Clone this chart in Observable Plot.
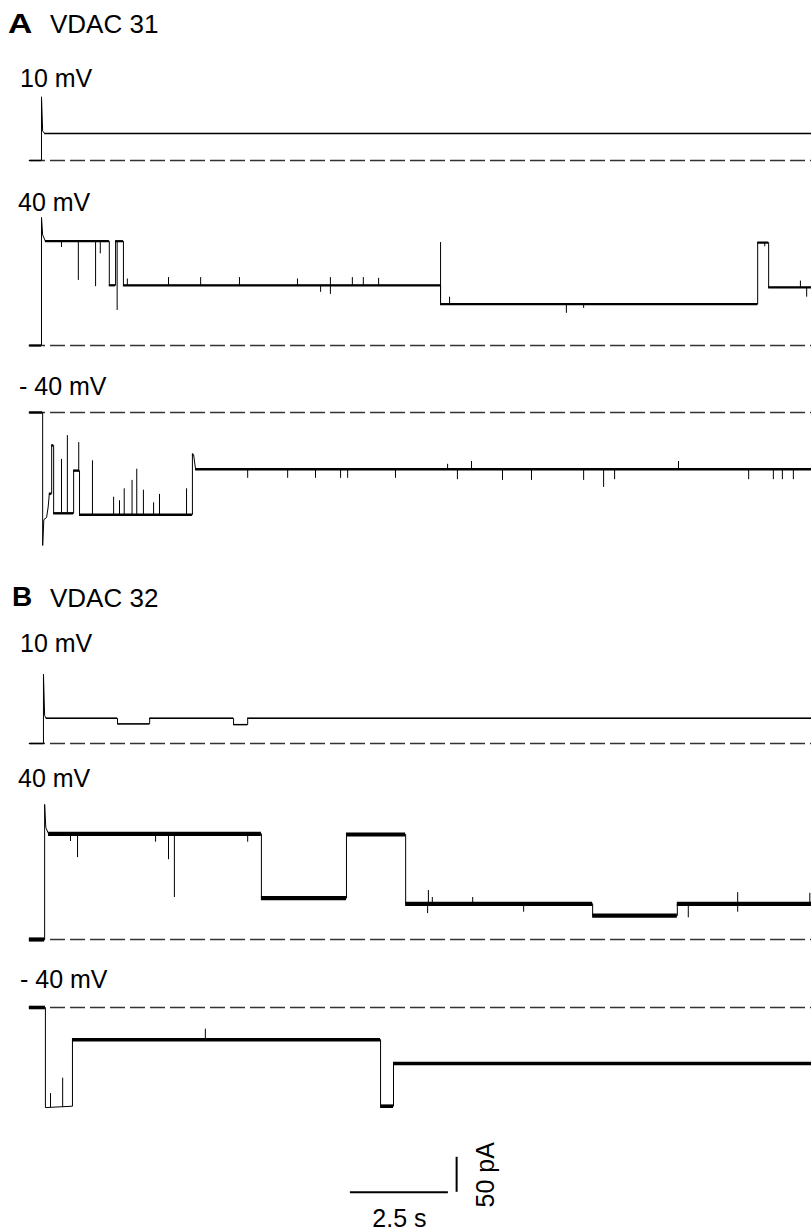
<!DOCTYPE html>
<html><head><meta charset="utf-8">
<script src="https://cdn.jsdelivr.net/npm/d3@7"></script>
<script src="https://cdn.jsdelivr.net/npm/@observablehq/plot@0.6"></script>
<style>
html,body{margin:0;padding:0;background:#fff;}
#page{position:relative;width:811px;height:1231px;overflow:hidden;font-family:"Liberation Sans",Arial,Helvetica,sans-serif;color:#000;}
.lbl{position:absolute;line-height:1;white-space:nowrap;}
.panel{position:absolute;left:0;}
</style></head><body><div id="page"></div>
<script>
// ---------- data ----------
const panelLetters = ["A", "B"];
const panelTitles = ["VDAC 31", "VDAC 32"];
const voltageLabels = ["10 mV", "40 mV", "- 40 mV", "10 mV", "40 mV", "- 40 mV"];

// time in s, current in pA
const a1Time = [-0.31, 0, 0, 0.03, 0.08, 19.65];
const a1Current = [0, 0, 91, 42, 38.6, 38.6];
const a1SpikeTime = [];
const a1SpikePeak = [];

const a2Time = [-0.31, 0, 0, 0.03, 0.1, 1.73, 1.73, 1.89, 1.89, 2.09, 2.09, 10.18, 10.18, 18.27, 18.27, 18.55, 18.55, 19.65];
const a2Current = [0, 0, 183, 158, 149, 149, 86, 86, 149, 149, 86, 86, 59, 59, 147, 147, 83, 83];
const a2SpikeTime = [0.51, 0.94, 1.38, 1.50, 1.93, 2.19, 3.24, 4.06, 5.05, 6.53, 7.12, 7.37, 7.37, 7.93, 8.21, 8.60, 10.18, 10.41, 13.39, 13.83, 18.45, 19.36, 19.52];
const a2SpikePeak = [140, 93, 84, 131, 50, 95, 97, 97, 97, 95, 76, 73, 97, 97, 97, 96, 147, 69, 46, 53, 141, 92, 69];

const a3Time = [-0.31, 0.03, 0.03, 0.06, 0.13, 0.17, 0.20, 0.26, 0.26, 0.31, 0.31, 0.82, 0.82, 0.97, 0.97, 3.85, 3.85, 3.88, 3.93, 19.65];
const a3Current = [0, 0, -190, -153, -150, -135, -116, -116, -47, -47, -144, -144, -83, -83, -146, -146, -60, -60, -81, -81];
const a3SpikeTime = [0.51, 0.66, 0.95, 1.30, 1.84, 1.99, 2.11, 2.31, 2.43, 2.60, 2.86, 3.01, 3.70, 5.26, 6.28, 6.99, 7.63, 7.81, 9.03, 10.36, 10.61, 10.97, 11.76, 12.50, 13.83, 14.34, 14.62, 16.25, 18.04, 18.67, 18.90, 19.18];
const a3SpikePeak = [-67, -33, -43, -69, -121, -126, -109, -97, -81, -111, -129, -117, -109, -94, -94, -94, -94, -94, -94, -74, -96, -70, -97, -97, -97, -107, -96, -70, -96, -96, -96, -96];

const b1Time = [-0.31, 0.05, 0.05, 0.08, 0.12, 1.94, 1.94, 2.76, 2.76, 4.90, 4.90, 5.26, 5.26, 19.65];
const b1Current = [0, 0, 99, 40, 36, 36, 28, 28, 36, 36, 27, 27, 36, 36];
const b1SpikeTime = [];
const b1SpikePeak = [];

const b2Time = [-0.31, 0.08, 0.08, 0.11, 0.18, 5.61, 5.61, 7.78, 7.78, 9.29, 9.29, 14.06, 14.06, 16.22, 16.22, 19.65];
const b2Current = [0, 0, 193, 160, 151, 151, 59, 59, 150, 150, 51, 51, 34, 34, 51, 51];
const b2SpikeTime = [0.74, 0.92, 2.91, 3.24, 3.39, 5.26, 9.85, 9.87, 9.97, 11.00, 12.30, 16.50, 17.76, 17.76, 19.60];
const b2SpikePeak = [140, 117, 139, 114, 60, 139, 37, 70, 60, 60, 39, 31, 67, 39, 66];

const b3Time = [-0.31, 0.10, 0.10, 0.79, 0.79, 8.65, 8.65, 8.98, 8.98, 19.65];
const b3Current = [0, 0, -143, -141, -46, -46, -141, -141, -80, -80];
const b3SpikeTime = [0.23, 0.54, 4.18];
const b3SpikePeak = [-123, -101, -31];

// scale bar
const scaleBarDuration = 2.5;   // s
const scaleBarAmplitude = 50;   // pA
const scaleBarLabels = ["2.5 s", "50 pA"];

// ---------- layout (page pixels) ----------
const pxPerPA = 0.7;
const xDomain = [-0.306, 19.643];
const xRange = [29, 811];
const dashStart = -0.28;
const traces = [
  {time: a1Time, cur: a1Current, st: a1SpikeTime, sp: a1SpikePeak, top: 90, bottom: 170, zero: 160, band: 1.4},
  {time: a2Time, cur: a2Current, st: a2SpikeTime, sp: a2SpikePeak, top: 212, bottom: 355, zero: 345, band: 2.2},
  {time: a3Time, cur: a3Current, st: a3SpikeTime, sp: a3SpikePeak, top: 400, bottom: 555, zero: 412, band: 2.4},
  {time: b1Time, cur: b1Current, st: b1SpikeTime, sp: b1SpikePeak, top: 665, bottom: 752, zero: 743, band: 1.4},
  {time: b2Time, cur: b2Current, st: b2SpikeTime, sp: b2SpikePeak, top: 795, bottom: 950, zero: 939, band: 4.2},
  {time: b3Time, cur: b3Current, st: b3SpikeTime, sp: b3SpikePeak, top: 995, bottom: 1231, zero: 1007, band: 3.6, scaleBar: true}
];
const labelPos = [{x: 20, base: 87}, {x: 18, base: 211}, {x: 19, base: 395}, {x: 20, base: 652}, {x: 18, base: 787}, {x: 20, base: 988}];
const headerPos = [{base: 33.5}, {base: 607}];
const barStart = 7.88, barY = -264;

const page = document.getElementById("page");

function addLabel(text, x, base, size, weight, extra) {
  const d = document.createElement("div");
  d.className = "lbl";
  d.textContent = text;
  d.style.left = x + "px";
  d.style.top = (base - 0.8465 * size) + "px";
  d.style.fontSize = size + "px";
  if (weight) d.style.fontWeight = weight;
  if (extra) Object.assign(d.style, extra);
  page.appendChild(d);
}

panelLetters.forEach((L, i) => {
  addLabel(L, i === 0 ? 8 : 12, headerPos[i].base, 28, "bold", i === 0 ? {transform: "scaleX(1.2)", transformOrigin: "left"} : null);
  addLabel(panelTitles[i], 50, headerPos[i].base, 26);
});
voltageLabels.forEach((t, i) => addLabel(t, labelPos[i].x, labelPos[i].base, 25));

function levelAt(time, cur, t) {
  let v = cur[0];
  for (let i = 0; i < time.length; i++) if (time[i] <= t) v = cur[i];
  return v;
}

traces.forEach(tr => {
  const h = tr.bottom - tr.top;
  const yDomain = [(tr.zero - tr.bottom) / pxPerPA, (tr.zero - tr.top) / pxPerPA];
  const pts = tr.time.map((t, i) => ({t, i: tr.cur[i]}));
  // flat segments (open/sub-conductance levels) drawn as a noisy-looking thicker band
  const levels = [];
  for (let k = 0; k + 1 < tr.time.length; k++) {
    if (tr.cur[k] === tr.cur[k + 1] && tr.time[k + 1] > tr.time[k]) levels.push({t1: tr.time[k], t2: tr.time[k + 1], i: tr.cur[k]});
  }
  const spikes = tr.st.map((t, k) => ({t, base: levelAt(tr.time, tr.cur, t), peak: tr.sp[k]}));
  const marks = [
    Plot.ruleY([0], {x1: dashStart, x2: xDomain[1], stroke: "#333", strokeWidth: 1.3, strokeDasharray: "15,5"}),
    Plot.line(pts, {x: "t", y: "i", stroke: "#000", strokeWidth: 1, curve: "linear"}),
    Plot.ruleY(levels, {x1: "t1", x2: "t2", y: "i", stroke: "#000", strokeWidth: tr.band}),
    Plot.ruleX(spikes, {x: "t", y1: "base", y2: "peak", stroke: "#000", strokeWidth: 1})
  ];
  if (tr.scaleBar) {
    marks.push(
      Plot.ruleY([barY], {x1: barStart, x2: barStart + scaleBarDuration, stroke: "#000", strokeWidth: 2}),
      Plot.ruleX([barStart + scaleBarDuration + 0.21], {y1: barY, y2: barY + scaleBarAmplitude, stroke: "#000", strokeWidth: 2}),
      Plot.text([scaleBarLabels[0]], {x: barStart + scaleBarDuration / 2, y: barY, dy: 27, text: d => d, fontSize: 25, fill: "#000", textAnchor: "middle"}),
      Plot.text([scaleBarLabels[1]], {x: barStart + scaleBarDuration + 0.21, y: barY + scaleBarAmplitude / 2, dx: 29, text: d => d, fontSize: 25, fill: "#000", rotate: -90, textAnchor: "middle"})
    );
  }
  const svg = Plot.plot({
    width: 811,
    height: h,
    marginTop: 0, marginBottom: 0, marginLeft: xRange[0], marginRight: 811 - xRange[1],
    x: {domain: xDomain, axis: null},
    y: {domain: yDomain, axis: null},
    style: {background: "transparent", overflow: "visible", fontFamily: "Liberation Sans, Arial, sans-serif"},
    marks
  });
  const wrap = document.createElement("div");
  wrap.className = "panel";
  wrap.style.top = tr.top + "px";
  wrap.appendChild(svg);
  page.appendChild(wrap);
});
</script></body></html>
